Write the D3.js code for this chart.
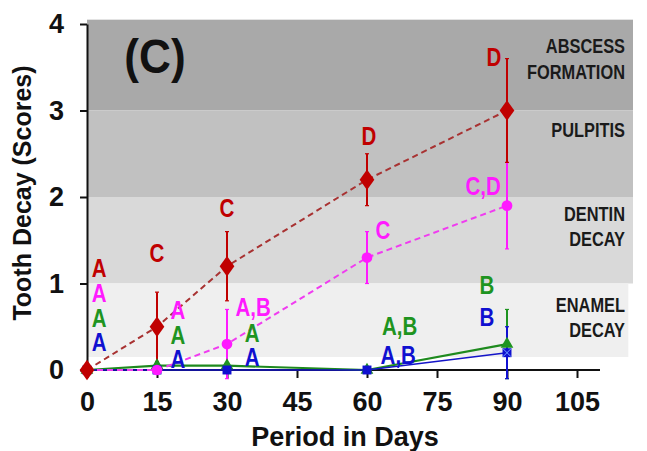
<!DOCTYPE html>
<html>
<head>
<meta charset="utf-8" />
<title>Tooth decay (C)</title>
<script src="https://d3js.org/d3.v7.min.js"></script>
<style>
  body { margin: 0; background: #fff; }
  svg text { font-family: Arial, "Liberation Sans", sans-serif; font-weight: bold; }
</style>
</head>
<body>
<div id="chart"></div>
<script>
// data
var days = [0, 15, 30, 60, 90];
var xTicks = [0, 15, 30, 45, 60, 75, 90, 105];
var yTicks = [0, 1, 2, 3, 4];

var redVals = [0, 0.5, 1.2, 2.2, 3.0];
var redErr = [0, 0.4, 0.4, 0.3, 0.6];
var magVals = [0, 0, 0.3, 1.3, 1.9];
var magErr = [0, 0, 0.4, 0.3, 0.5];
var greenVals = [0, 0.05, 0.05, 0, 0.3];
var greenErr = [0, 0.02, 0.02, 0, 0.4];
var blueVals = [0, 0, 0, 0, 0.2];
var blueErr = [0, 0, 0, 0, 0.3];

var bandNames = [["ABSCESS", "FORMATION"], ["PULPITIS"], ["DENTIN", "DECAY"], ["ENAMEL", "DECAY"]];
var bandLow = [3, 2, 1, 0.15];
var bandHigh = [4.05, 3, 2, 1];
var bandColors = ["#a9a9a9", "#c1c1c1", "#d9d9d9", "#efefef"];

// significance letters: [day, score, text]
var redLetters = [[2.6, 1.18, "A"], [15, 1.35, "C"], [30, 1.87, "C"], [60.4, 2.7, "D"], [87.2, 3.62, "D"]];
var magLetters = [[2.6, 0.89, "A"], [19.5, 0.69, "A"], [35.6, 0.73, "A,B"], [63.4, 1.62, "C"], [84.9, 2.12, "C,D"]];
var greenLetters = [[2.6, 0.6, "A"], [19.5, 0.4, "A"], [35.4, 0.43, "A"], [67, 0.5, "A,B"], [85.7, 0.98, "B"]];
var blueLetters = [[2.6, 0.32, "A"], [19.5, 0.12, "A"], [35.4, 0.15, "A"], [66.7, 0.17, "A,B"], [85.7, 0.61, "B"]];

var W = 647, H = 451;
var svg = d3.select("#chart").append("svg").attr("width", W).attr("height", H);

var x = d3.scaleLinear().domain([0, 105]).range([87, 577]);
var y = d3.scaleLinear().domain([0, 4]).range([370, 24]);

function squeeze(sel, k) {
  sel.attr("transform", function () {
    var px = +this.getAttribute("x"), py = +this.getAttribute("y");
    return "translate(" + px + "," + py + ") scale(" + k + ",1) translate(" + (-px) + "," + (-py) + ")";
  });
}

// background bands
bandNames.forEach(function (nm, i) {
  svg.append("rect")
    .attr("x", x(0)).attr("y", y(bandHigh[i]))
    .attr("width", x(i == 3 ? 116 : 117) - x(0))
    .attr("height", y(bandLow[i]) - y(bandHigh[i]))
    .attr("fill", bandColors[i]);
});
var bandTextY = [[46, 72], [130], [214, 239], [305, 330]];
bandNames.forEach(function (nm, i) {
  nm.forEach(function (t, j) {
    svg.append("text").attr("x", 625).attr("y", bandTextY[i][j])
      .attr("text-anchor", "end").attr("dominant-baseline", "central")
      .attr("font-size", 20).attr("fill", "#1a1a1a").text(t)
      .call(squeeze, 0.82);
  });
});

svg.append("text").attr("x", 155).attr("y", 56)
  .attr("text-anchor", "middle").attr("dominant-baseline", "central")
  .attr("font-size", 48).attr("fill", "#111").text("(C)")
  .call(squeeze, 0.92);

// axes
var xAxis = svg.append("g").attr("transform", "translate(0," + y(0) + ")")
  .call(d3.axisBottom(x).tickValues(xTicks).tickSize(8).tickPadding(14).tickSizeOuter(0));
xAxis.select(".domain").attr("d", "M" + x(0) + ",0H600");
var yAxis = svg.append("g").attr("transform", "translate(" + x(0) + ",0)")
  .call(d3.axisLeft(y).tickValues(yTicks).tickFormat(d3.format("d")).tickSize(7).tickPadding(16).tickSizeOuter(0));
[xAxis, yAxis].forEach(function (a) {
  a.selectAll(".domain").attr("stroke", "#111").attr("stroke-width", 2);
  a.selectAll(".tick line").attr("stroke", "#111").attr("stroke-width", 2);
  a.selectAll("text").attr("font-size", 27).attr("fill", "#111")
    .style("font-family", "Arial, 'Liberation Sans', sans-serif").style("font-weight", "bold");
});

svg.append("text").attr("x", 345).attr("y", 437)
  .attr("text-anchor", "middle").attr("dominant-baseline", "central")
  .attr("font-size", 27).attr("fill", "#111").text("Period in Days");
svg.append("text").attr("transform", "translate(22,193) rotate(-90)")
  .attr("text-anchor", "middle").attr("dominant-baseline", "central")
  .attr("font-size", 25).attr("fill", "#111").text("Tooth Decay (Scores)");

var series = [
  { vals: greenVals, err: greenErr, color: "#1e9420", line: "#1e8a1e", dash: null, lw: 2.2, shape: "tri", letters: greenLetters },
  { vals: blueVals, err: blueErr, color: "#1010d0", line: "#1414c8", dash: null, lw: 1.6, shape: "sq", letters: blueLetters },
  { vals: magVals, err: magErr, color: "#ff1aff", line: "#f03cf0", dash: "6,4", lw: 2, shape: "circ", letters: magLetters },
  { vals: redVals, err: redErr, color: "#c00000", line: "#a83232", dash: "6,4", lw: 2, shape: "dia", letters: redLetters }
];

var line = d3.line().x(function (d) { return x(d[0]); }).y(function (d) { return y(d[1]); });

// error bars first
series.forEach(function (s) {
  days.forEach(function (d, i) {
    if (s.err[i] <= 0) return;
    var g = svg.append("g").attr("stroke", s.color).attr("stroke-width", 2);
    g.append("line").attr("x1", x(d)).attr("x2", x(d))
      .attr("y1", y(s.vals[i] - s.err[i])).attr("y2", y(s.vals[i] + s.err[i]));
    [s.vals[i] - s.err[i], s.vals[i] + s.err[i]].forEach(function (v) {
      g.append("line").attr("x1", x(d) - 2).attr("x2", x(d) + 2)
        .attr("y1", y(v)).attr("y2", y(v)).attr("stroke-width", 1.2);
    });
  });
});

series.forEach(function (s) {
  var pts = days.map(function (d, i) { return [d, s.vals[i]]; });
  svg.append("path").datum(pts).attr("d", line).attr("fill", "none")
    .attr("stroke", s.line).attr("stroke-width", s.lw)
    .attr("stroke-dasharray", s.dash);
});

var symbols = { tri: d3.symbolTriangle, sq: d3.symbolSquare, circ: d3.symbolCircle, dia: d3.symbolDiamond };
var sizes = { tri: 70, sq: 80, circ: 90, dia: 120 };
series.forEach(function (s) {
  svg.selectAll(null).data(days).enter().append("path")
    .attr("d", d3.symbol().type(symbols[s.shape]).size(sizes[s.shape]))
    .attr("transform", function (d, i) {
      return "translate(" + x(d) + "," + y(s.vals[i]) + ")" + (s.shape == "dia" ? " scale(1.25,1)" : "");
    })
    .attr("fill", s.color);
  if (s.shape == "sq") {
    var lx = x(90), ly = y(s.vals[4]);
    svg.append("path").attr("d", "M" + (lx - 4) + "," + (ly - 4) + "L" + (lx + 4) + "," + (ly + 4) + "M" + (lx + 4) + "," + (ly - 4) + "L" + (lx - 4) + "," + (ly + 4))
      .attr("stroke", "#6fa0ff").attr("stroke-width", 1);
  }
});

// letters
series.forEach(function (s) {
  s.letters.forEach(function (l) {
    svg.append("text").attr("x", x(l[0])).attr("y", y(l[1]))
      .attr("text-anchor", "middle").attr("dominant-baseline", "central")
      .attr("font-size", 25).attr("fill", s.color)
      .text(l[2])
      .call(squeeze, 0.82);
  });
});
</script>
</body>
</html>
